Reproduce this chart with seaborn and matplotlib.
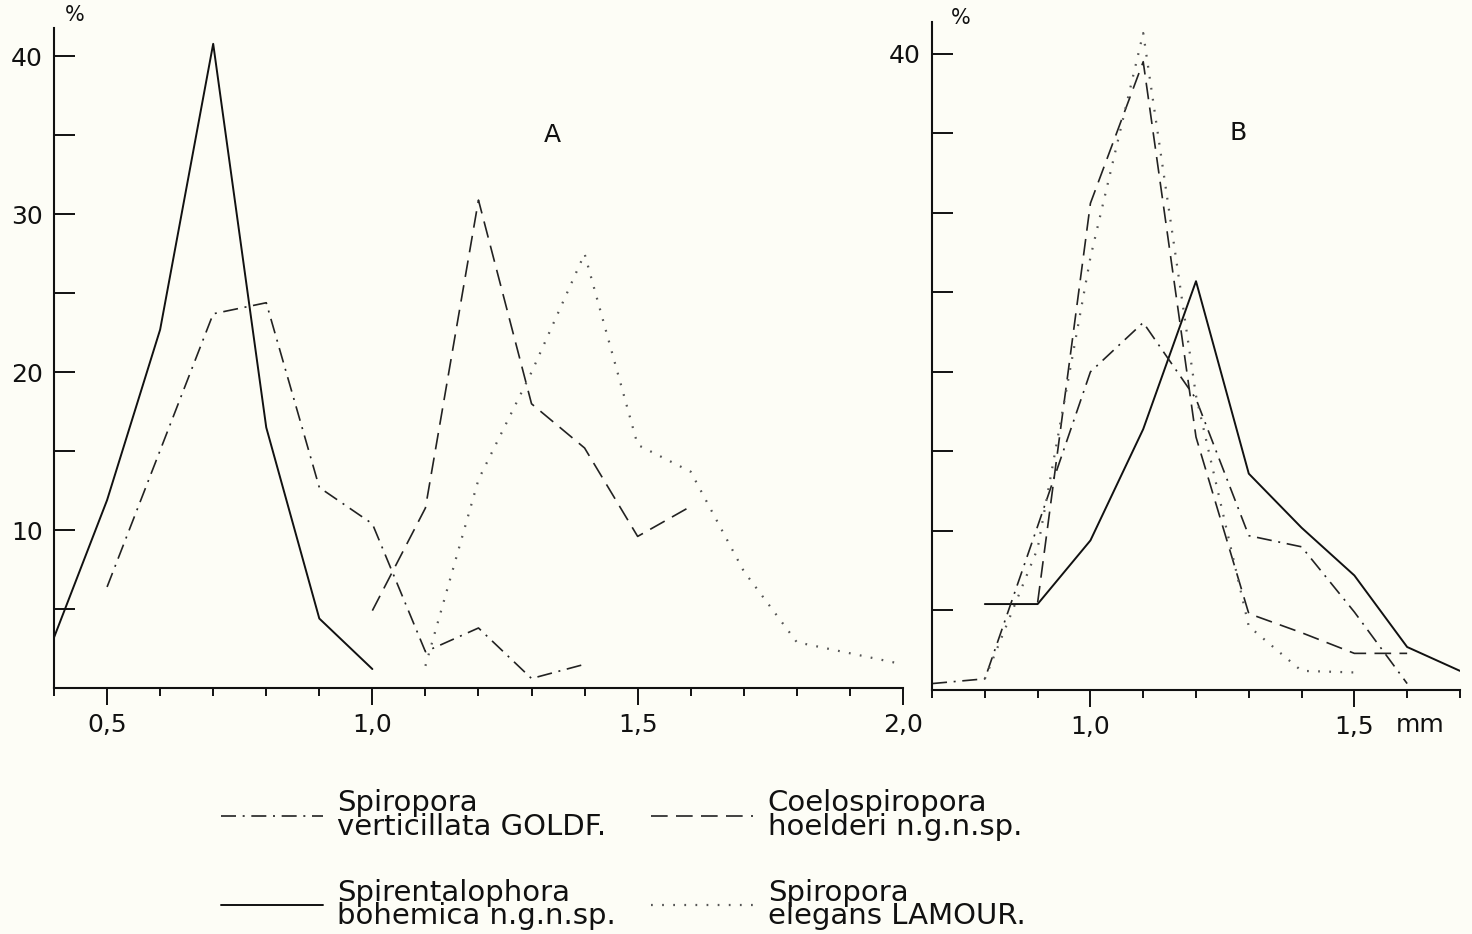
import numpy as np
import pandas as pd
import seaborn as sns
import matplotlib.pyplot as plt
from matplotlib.ticker import MultipleLocator, FixedLocator

# ---- data, size in mm vs. frequency in % ----
# panel A
a_bohemica_x = [0.4, 0.5, 0.6, 0.7, 0.8, 0.9, 1.0]
a_bohemica_y = [3.2, 11.9, 22.7, 40.8, 16.5, 4.4, 1.2]
a_verticillata_x = [0.5, 0.7, 0.8, 0.9, 1.0, 1.1, 1.2, 1.3, 1.4]
a_verticillata_y = [6.4, 23.7, 24.4, 12.7, 10.4, 2.3, 3.8, 0.6, 1.5]
a_hoelderi_x = [1.0, 1.1, 1.2, 1.3, 1.4, 1.5, 1.6]
a_hoelderi_y = [4.9, 11.4, 30.9, 18.0, 15.2, 9.6, 11.5]
a_elegans_x = [1.1, 1.2, 1.3, 1.4, 1.5, 1.6, 1.7, 1.8, 1.9, 2.0]
a_elegans_y = [1.4, 13.2, 20.0, 27.5, 15.4, 13.7, 7.4, 2.9, 2.2, 1.5]

# panel B
b_bohemica_x = [0.8, 0.9, 1.0, 1.1, 1.2, 1.3, 1.4, 1.5, 1.6, 1.7]
b_bohemica_y = [5.4, 5.4, 9.4, 16.4, 25.7, 13.6, 10.2, 7.2, 2.7, 1.2]
b_verticillata_x = [0.7, 0.8, 0.9, 1.0, 1.1, 1.2, 1.3, 1.4, 1.5, 1.6]
b_verticillata_y = [0.4, 0.7, 10.3, 20.0, 23.1, 18.3, 9.7, 9.0, 4.9, 0.4]
b_hoelderi_x = [0.9, 1.0, 1.1, 1.2, 1.3, 1.4, 1.5, 1.6]
b_hoelderi_y = [5.5, 30.6, 39.5, 15.9, 4.8, 3.6, 2.3, 2.3]
b_elegans_x = [0.8, 0.9, 1.0, 1.1, 1.2, 1.3, 1.4, 1.5]
b_elegans_y = [0.7, 8.9, 27.2, 41.3, 18.5, 4.0, 1.2, 1.1]

labels = {
    "verticillata": "Spiropora\nverticillata GOLDF.",
    "bohemica": "Spirentalophora\nbohemica n.g.n.sp.",
    "hoelderi": "Coelospiropora\nhoelderi n.g.n.sp.",
    "elegans": "Spiropora\nelegans LAMOUR.",
}

styles = {
    "verticillata": dict(color="#222222", lw=1.2, dashes=(9, 4, 1.2, 4)),
    "bohemica": dict(color="#111111", lw=1.4, linestyle="-"),
    "hoelderi": dict(color="#222222", lw=1.2, dashes=(10, 5)),
    "elegans": dict(color="#555555", lw=1.6, dashes=(0.8, 4.2)),
}

panels = {
    "A": {"bohemica": (a_bohemica_x, a_bohemica_y),
          "verticillata": (a_verticillata_x, a_verticillata_y),
          "hoelderi": (a_hoelderi_x, a_hoelderi_y),
          "elegans": (a_elegans_x, a_elegans_y)},
    "B": {"bohemica": (b_bohemica_x, b_bohemica_y),
          "verticillata": (b_verticillata_x, b_verticillata_y),
          "hoelderi": (b_hoelderi_x, b_hoelderi_y),
          "elegans": (b_elegans_x, b_elegans_y)},
}

sns.set_theme(style="ticks")
plt.rcParams["font.family"] = ["DejaVu Sans"]
bg = "#fdfdf6"
ink = "#111111"

fig = plt.figure(figsize=(14.72, 9.34), dpi=100, facecolor=bg)
ax_a = fig.add_axes([0.0367, 0.2634, 0.5767, 0.7066])
ax_b = fig.add_axes([0.6332, 0.2613, 0.3586, 0.7152])

handles = {}
for name, ax in [("A", ax_a), ("B", ax_b)]:
    ax.set_facecolor(bg)
    for sp, (xs, ys) in panels[name].items():
        df = pd.DataFrame({"x": xs, "y": ys})
        sns.lineplot(data=df, x="x", y="y", ax=ax, estimator=None, sort=False, **styles[sp])
        handles[sp] = ax.get_lines()[-1]
    sns.despine(ax=ax)
    for s in ["left", "bottom"]:
        ax.spines[s].set_color(ink)
        ax.spines[s].set_linewidth(1.5)
    ax.set_xlabel("")
    ax.set_ylabel("")
    ax.xaxis.set_minor_locator(MultipleLocator(0.1))
    ax.tick_params(axis="x", which="major", direction="out", length=12, width=1.4,
                   colors=ink, labelsize=18, pad=6)
    ax.tick_params(axis="x", which="minor", direction="out", length=6, width=1.4, colors=ink)
    ax.tick_params(axis="y", which="both", direction="in", length=15, width=1.4,
                   colors=ink, labelsize=18, pad=8)

# panel A axes
ax_a.set_xlim(0.4, 2.0)
ax_a.set_ylim(0, 41.8)
ax_a.set_xticks([0.5, 1.0, 1.5, 2.0])
ax_a.set_xticklabels(["0,5", "1,0", "1,5", "2,0"])
ax_a.yaxis.set_major_locator(FixedLocator([10, 20, 30, 40]))
ax_a.yaxis.set_minor_locator(FixedLocator([5, 15, 25, 35]))
ax_a.set_yticklabels(["10", "20", "30", "40"])
ax_a.text(0.42, 42.0, "%", fontsize=15, ha="left", va="bottom", color=ink)
ax_a.text(1.34, 35.0, "A", fontsize=18, ha="center", va="center", color=ink)

# panel B axes
ax_b.set_xlim(0.7, 1.7)
ax_b.set_ylim(0, 42.0)
ax_b.set_xticks([1.0, 1.5])
ax_b.set_xticklabels(["1,0", "1,5"])
ax_b.yaxis.set_major_locator(FixedLocator([40]))
ax_b.yaxis.set_minor_locator(FixedLocator([5, 10, 15, 20, 25, 30, 35]))
ax_b.set_yticklabels(["40"])
ax_b.text(0.735, 41.6, "%", fontsize=15, ha="left", va="bottom", color=ink)
ax_b.text(1.28, 35.0, "B", fontsize=18, ha="center", va="center", color=ink)
ax_b.text(1.625, -2.2, "mm", fontsize=18, ha="center", va="center", color=ink)

# legend
order = ["verticillata", "bohemica", "hoelderi", "elegans"]
leg = fig.legend([handles[k] for k in order], [labels[k] for k in order],
                 ncol=2, loc="upper left", bbox_to_anchor=(0.132, 0.183),
                 frameon=False, fontsize=21, handlelength=3.5, handletextpad=0.5,
                 columnspacing=1.2, labelspacing=1.3, borderpad=0.4)
for t in leg.get_texts():
    t.set_linespacing(0.8)
    t.set_color(ink)

fig.savefig("out.png", dpi=100, facecolor=bg)
